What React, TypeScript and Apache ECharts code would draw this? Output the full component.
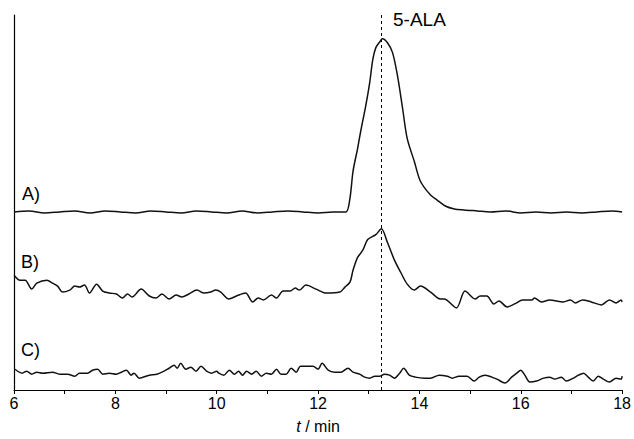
import React, { useEffect, useRef } from "react";
import * as echarts from "echarts";

// Trace A (t in min, signal)
const aT = [6.0, 6.3, 6.6, 6.9, 7.2, 7.5, 7.8, 8.1, 8.4, 8.7, 9.0, 9.3, 9.6, 9.9, 10.2, 10.5, 10.8, 11.1, 11.4, 11.7, 12.0, 12.3, 12.55, 12.63, 12.69, 12.78, 12.84, 12.94, 13.02, 13.08, 13.14, 13.22, 13.27, 13.37, 13.47, 13.57, 13.67, 13.76, 13.9, 14.02, 14.22, 14.35, 14.51, 14.69, 14.88, 15.14, 15.4, 15.7, 16.0, 16.3, 16.6, 16.9, 17.2, 17.5, 17.8, 18.0];
const aV = [180, 181, 179, 180, 181, 179, 181, 180, 179, 181, 180, 179, 181, 180, 179, 181, 179, 180, 181, 180, 179, 180, 180, 194, 221, 244, 261, 287, 311, 334, 346, 352, 355, 351, 341, 317, 284, 254, 231, 211, 197, 192, 186, 183, 182, 181, 180, 181, 179, 180, 179, 180, 179, 180, 181, 180];

// Trace B
const bT = [6.0, 6.12, 6.22, 6.35, 6.45, 6.65, 6.76, 6.86, 6.96, 7.1, 7.2, 7.29, 7.39, 7.49, 7.63, 7.75, 7.88, 8.02, 8.14, 8.24, 8.33, 8.51, 8.67, 8.8, 8.92, 9.06, 9.2, 9.31, 9.45, 9.61, 9.75, 9.88, 9.98, 10.08, 10.24, 10.39, 10.57, 10.71, 10.82, 10.92, 11.08, 11.18, 11.31, 11.45, 11.55, 11.63, 11.76, 11.96, 12.16, 12.43, 12.53, 12.63, 12.69, 12.78, 12.88, 12.98, 13.14, 13.25, 13.37, 13.51, 13.63, 13.76, 13.9, 14.02, 14.22, 14.41, 14.49, 14.73, 14.9, 15.1, 15.2, 15.33, 15.47, 15.57, 15.73, 15.88, 16.04, 16.22, 16.27, 16.41, 16.57, 16.84, 16.98, 17.08, 17.22, 17.39, 17.59, 17.75, 17.88, 17.98, 18.0];
const bV = [116, 111, 111, 102, 108, 111, 108, 105, 99, 101, 105, 104, 106, 98, 107, 100, 98, 97, 93, 97, 94, 102, 95, 93, 97, 92, 96, 94, 97, 101, 98, 99, 101, 99, 92, 95, 98, 89, 93, 91, 96, 93, 100, 100, 103, 101, 106, 102, 98, 99, 104, 109, 121, 134, 141, 152, 157, 163, 149, 131, 119, 107, 101, 105, 99, 92, 92, 83, 100, 92, 95, 95, 87, 90, 84, 87, 91, 91, 93, 89, 91, 89, 91, 88, 91, 89, 86, 91, 88, 91, 89];

// Trace C
const cT = [6.02, 6.16, 6.25, 6.35, 6.45, 6.57, 6.76, 6.9, 7.06, 7.2, 7.29, 7.45, 7.55, 7.65, 7.75, 7.88, 8.02, 8.12, 8.22, 8.31, 8.37, 8.47, 8.67, 8.82, 8.96, 9.06, 9.16, 9.22, 9.29, 9.39, 9.49, 9.59, 9.69, 9.8, 9.9, 10.0, 10.04, 10.14, 10.25, 10.35, 10.43, 10.51, 10.59, 10.69, 10.78, 10.88, 10.98, 11.08, 11.18, 11.27, 11.37, 11.47, 11.57, 11.65, 11.76, 11.9, 12.0, 12.08, 12.2, 12.33, 12.45, 12.59, 12.69, 12.82, 12.92, 13.02, 13.12, 13.22, 13.31, 13.41, 13.51, 13.61, 13.69, 13.8, 13.92, 14.1, 14.22, 14.39, 14.55, 14.65, 14.78, 14.94, 15.08, 15.18, 15.29, 15.43, 15.53, 15.69, 15.82, 15.92, 16.0, 16.08, 16.18, 16.31, 16.45, 16.57, 16.67, 16.8, 16.9, 17.04, 17.14, 17.24, 17.33, 17.43, 17.53, 17.63, 17.75, 17.88, 17.98, 18.0];
const cV = [21, 17, 19, 16, 18, 17, 18, 16, 16, 14, 17, 17, 20, 21, 16, 17, 16, 18, 20, 15, 17, 12, 15, 16, 19, 22, 25, 22, 27, 21, 23, 19, 24, 19, 17, 19, 17, 15, 20, 16, 19, 15, 19, 16, 19, 14, 17, 16, 21, 16, 16, 22, 18, 24, 24, 24, 21, 27, 20, 18, 18, 22, 18, 16, 13, 12, 14, 14, 16, 15, 12, 17, 22, 15, 13, 12, 12, 15, 14, 12, 14, 14, 9, 13, 15, 13, 11, 7, 13, 17, 20, 15, 8, 9, 12, 13, 11, 13, 9, 12, 15, 17, 13, 9, 14, 11, 8, 12, 11, 14];

const xTicks = [6, 8, 10, 12, 14, 16, 18];
const peakTime = 13.25;
const peakName = "5-ALA";
const traceLabels = ["A)", "B)", "C)"];

const zip = (t: number[], v: number[]) => t.map((x, i) => [x, v[i]]);

export default function App() {
  const ref = useRef<HTMLDivElement>(null);
  useEffect(() => {
    if (!ref.current) return;
    const chart = echarts.init(ref.current, undefined, { renderer: "svg" });
    const font = "'Liberation Sans', Arial, sans-serif";
    const narrow = "'Liberation Sans Narrow', 'Liberation Sans', Arial, sans-serif";
    const lineStyle = { color: "#111", width: 1.5 };
    const labelStyle = { fontSize: 18, fontFamily: font, fill: "#000" };
    chart.setOption({
      animation: false,
      backgroundColor: "#fff",
      grid: { left: 14, right: 7, top: 15, bottom: 45 },
      xAxis: {
        type: "value",
        min: xTicks[0],
        max: xTicks[xTicks.length - 1],
        interval: 2,
        axisLine: { show: true, lineStyle: { color: "#000", width: 1.2 } },
        axisTick: { show: true, length: 4, inside: false, lineStyle: { color: "#000" } },
        minorTick: { show: true, splitNumber: 2, length: 4, lineStyle: { color: "#000" } },
        splitLine: { show: false },
        axisLabel: { color: "#000", fontSize: 16, fontFamily: narrow, margin: 5 },
        name: "{i|t} / min",
        nameLocation: "middle",
        nameGap: 28,
        nameTextStyle: {
          color: "#000",
          fontSize: 16,
          fontFamily: narrow,
          rich: { i: { fontStyle: "italic", fontSize: 16, fontFamily: narrow, color: "#000" } },
        },
      },
      yAxis: {
        type: "value",
        min: 0,
        max: 379,
        axisLine: { show: true, onZero: false, lineStyle: { color: "#000", width: 1.2 } },
        axisTick: { show: false },
        axisLabel: { show: false },
        splitLine: { show: false },
      },
      series: [
        {
          type: "line",
          data: zip(aT, aV),
          showSymbol: false,
          smooth: 0.3,
          lineStyle,
          markLine: {
            silent: true,
            symbol: "none",
            label: { show: false },
            lineStyle: { type: [3, 3], color: "#000", width: 1 },
            data: [{ xAxis: peakTime }],
          },
        },
        { type: "line", data: zip(bT, bV), showSymbol: false, smooth: 0.3, lineStyle },
        { type: "line", data: zip(cT, cV), showSymbol: false, smooth: 0.3, lineStyle },
      ],
      graphic: [
        { type: "text", left: 393, top: 10, style: { text: peakName, fontSize: 19, fontFamily: font, fill: "#000" } },
        { type: "text", left: 22, top: 185, style: { text: traceLabels[0], ...labelStyle } },
        { type: "text", left: 21, top: 253, style: { text: traceLabels[1], ...labelStyle } },
        { type: "text", left: 21, top: 341, style: { text: traceLabels[2], ...labelStyle } },
      ],
    });
    return () => chart.dispose();
  }, []);
  return <div ref={ref} style={{ width: 634, height: 439, position: "absolute", left: 0, top: 0 }} />;
}
